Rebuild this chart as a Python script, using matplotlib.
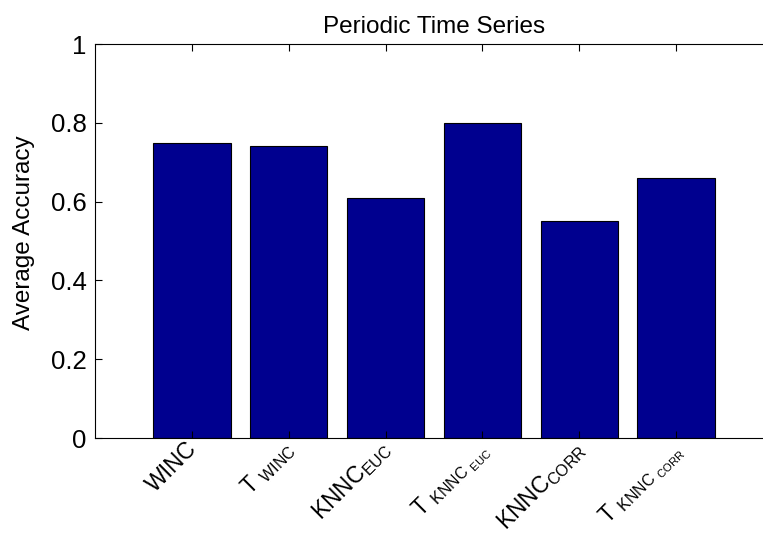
import numpy as np, matplotlib; matplotlib.use('Agg')
import matplotlib.pyplot as plt
from matplotlib.transforms import ScaledTranslation

plt.rcParams['font.family'] = ['Liberation Sans', 'DejaVu Sans']
plt.rcParams['mathtext.fontset'] = 'custom'
plt.rcParams['mathtext.rm'] = 'Liberation Sans'
plt.rcParams['mathtext.it'] = 'Liberation Sans'

labels = ['WINC', r'T $_{\mathrm{WINC}}$', r'KNNC$_{\mathrm{EUC}}$',
          r'T $_{\mathrm{KNNC}\ _{\mathrm{EUC}}}$', r'KNNC$_{\mathrm{CORR}}$',
          r'T $_{\mathrm{KNNC}\ _{\mathrm{CORR}}}$']
acc = [0.75, 0.74, 0.61, 0.80, 0.55, 0.66]

fig = plt.figure(figsize=(7.63, 5.36), dpi=100)
# axes run past the right edge (the original figure was cropped)
ax = fig.add_axes([0.1245, 0.1828, 0.8886, 0.7351])
x = np.arange(1, len(acc) + 1)
ax.bar(x, acc, width=0.8, color='#00008F', edgecolor='black', linewidth=0.8)
ax.set_xlim(0, 7); ax.set_ylim(0, 1)
ax.set_yticks([0, 0.2, 0.4, 0.6, 0.8, 1])
ax.set_yticklabels(['0', '0.2', '0.4', '0.6', '0.8', '1'], fontsize=18.5)
ax.set_xticks(x)
ax.set_xticklabels(labels, rotation=45, ha='right', va='top', rotation_mode='anchor', fontsize=16.5)
ax.tick_params(direction='in', top=True, right=True, length=5, width=0.8)
ax.tick_params(axis='x', pad=4)
ax.tick_params(axis='y', pad=6)
ax.set_ylabel('Average Accuracy', fontsize=17.5)
ax.yaxis.set_label_coords(-0.088, 0.52)
ax.set_title('Periodic Time Series', fontsize=17.5, pad=8)
# nudge rotated labels up-left so their ends sit at the ticks
off = ScaledTranslation(-0.07, 0.065, fig.dpi_scale_trans)
for lbl in ax.get_xticklabels():
    lbl.set_transform(lbl.get_transform() + off)
fig.savefig('out.png', dpi=100)
